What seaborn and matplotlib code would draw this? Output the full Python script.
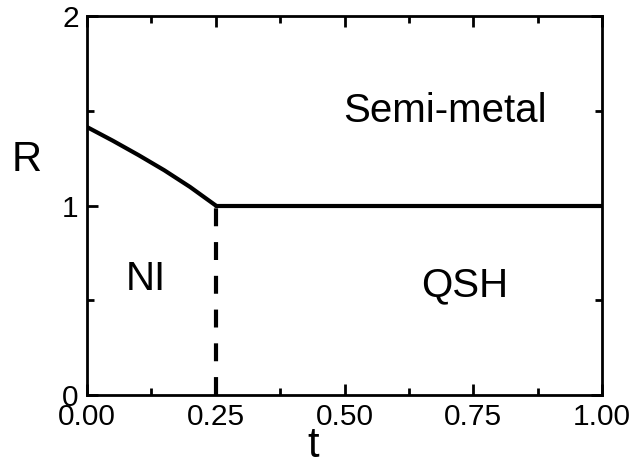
import matplotlib
matplotlib.use("Agg")
import matplotlib.pyplot as plt
import seaborn as sns
import pandas as pd
from matplotlib.ticker import MultipleLocator, FormatStrFormatter

# Phase boundary between NI and Semi-metal
t_boundary = [0.0, 0.05, 0.10, 0.15, 0.20, 0.25]
r_boundary = [1.414, 1.342, 1.266, 1.186, 1.098, 1.0]

# QSH / Semi-metal boundary
t_flat = [0.25, 1.0]
r_flat = [1.0, 1.0]

# NI / QSH boundary (dashed)
t_vert = [0.25, 0.25]
r_vert = [0.0, 1.0]

x_ticks = [0.0, 0.25, 0.5, 0.75, 1.0]
y_ticks = [0, 1, 2]

sns.set_theme(style="ticks")
plt.rcParams["font.family"] = ["Liberation Sans", "DejaVu Sans"]

fig = plt.figure(figsize=(6.32, 4.65), dpi=100)
ax = fig.add_axes([0.1377, 0.1505, 0.8148, 0.8151])

curve = pd.DataFrame({"t": t_boundary, "R": r_boundary})
flat = pd.DataFrame({"t": t_flat, "R": r_flat})
sns.lineplot(data=curve, x="t", y="R", ax=ax, color="black",
             lw=3, sort=False, estimator=None)
sns.lineplot(data=flat, x="t", y="R", ax=ax, color="black",
             lw=3, sort=False, estimator=None)
sns.lineplot(x=t_vert, y=r_vert, ax=ax, color="black", lw=3,
             linestyle=(0, (4.3, 3.8)), sort=False, estimator=None)

ax.set_xlim(0, 1)
ax.set_ylim(0, 2)
ax.set_xticks(x_ticks)
ax.set_yticks(y_ticks)
ax.xaxis.set_minor_locator(MultipleLocator(0.125))
ax.yaxis.set_minor_locator(MultipleLocator(0.5))
ax.xaxis.set_major_formatter(FormatStrFormatter("%.2f"))
ax.yaxis.set_major_formatter(FormatStrFormatter("%d"))

for s in ax.spines.values():
    s.set_linewidth(2)
    s.set_color("black")
ax.tick_params(which="both", direction="in", top=True, right=True,
               width=2, color="black", labelsize=21.5, labelcolor="black")
ax.tick_params(which="major", length=8)
ax.tick_params(which="minor", length=5)
ax.tick_params(axis="x", pad=6)
ax.tick_params(axis="y", pad=6)

ax.set_xlabel("t", fontsize=30, color="black")
ax.set_ylabel("R", fontsize=30, rotation=0, color="black")
ax.xaxis.set_label_coords(0.439, -0.134)
ax.xaxis.label.set_va("center")
ax.yaxis.set_label_coords(-0.1165, 0.62)
ax.yaxis.label.set_va("center")
ax.yaxis.label.set_ha("center")

ax.text(0.695, 1.50, "Semi-metal", fontsize=29, ha="center", va="center", color="black")
ax.text(0.115, 0.61, "NI", fontsize=29, ha="center", va="center", color="black")
ax.text(0.733, 0.58, "QSH", fontsize=29, ha="center", va="center", color="black")

ax.set_facecolor("white")
fig.patch.set_facecolor("white")
fig.savefig("out.png", dpi=100)
